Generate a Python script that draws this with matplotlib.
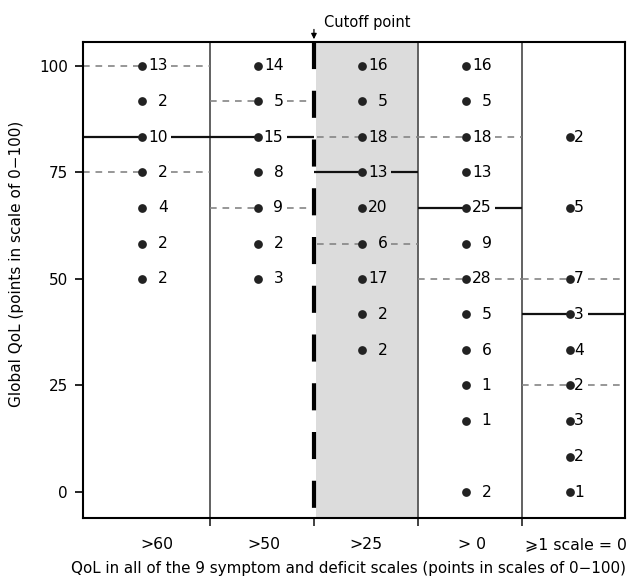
import matplotlib
matplotlib.use("Agg")
import matplotlib.pyplot as plt
import numpy as np

plt.rcParams['font.family'] = ['DejaVu Sans']

# ---- data ----
categories = [">60", ">50", ">25", "> 0", "\u2a7e1 scale = 0"]
col1_y = [100, 91.7, 83.3, 75, 66.7, 58.3, 50]
col1_n = [13, 2, 10, 2, 4, 2, 2]
col2_y = [100, 91.7, 83.3, 75, 66.7, 58.3, 50]
col2_n = [14, 5, 15, 8, 9, 2, 3]
col3_y = [100, 91.7, 83.3, 75, 66.7, 58.3, 50, 41.7, 33.3]
col3_n = [16, 5, 18, 13, 20, 6, 17, 2, 2]
col4_y = [100, 91.7, 83.3, 75, 66.7, 58.3, 50, 41.7, 33.3, 25, 16.7, 0]
col4_n = [16, 5, 18, 13, 25, 9, 28, 5, 6, 1, 1, 2]
col5_y = [83.3, 66.7, 50, 41.7, 33.3, 25, 16.7, 8.3, 0]
col5_n = [2, 5, 7, 3, 4, 2, 3, 2, 1]
medians = [83.3, 83.3, 75, 66.7, 41.7]
quartiles = [(100, 75), (91.7, 66.7), (83.3, 58.3), (83.3, 50), (50, 25)]
yticks = [0, 25, 50, 75, 100]

cols_y = [col1_y, col2_y, col3_y, col4_y, col5_y]
cols_n = [col1_n, col2_n, col3_n, col4_n, col5_n]

# ---- layout ----
bounds = [0, 1.22, 2.22, 3.22, 4.22, 5.21]
dot_off = [0.567, 0.46, 0.46, 0.46, 0.46]
label_shift = [0.10, 0.015, 0.0, 0.02, 0.025]
label_centers = [(bounds[i] + bounds[i + 1]) / 2 + label_shift[i] for i in range(5)]

W, H = 632, 581
fig = plt.figure(figsize=(W / 100, H / 100), dpi=100)
ax = fig.add_axes([83 / W, 1 - 518 / H, 542 / W, 476 / H])
ax.set_xlim(bounds[0], bounds[-1])
ax.set_ylim(-6.1, 105.6)

# grey column
ax.axvspan(bounds[2] + 0.02, bounds[3], color='#dcdcdc', zorder=0, lw=0)

# dividers
for b in [bounds[1], bounds[3], bounds[4]]:
    ax.axvline(b, color='#555555', lw=1.3, zorder=1)
ax.plot([bounds[2], bounds[2]], [105.6, -8], color='black', lw=3,
        linestyle=(0, (6.5, 5.2)), clip_on=False, zorder=3)

qcol = '#858585'
for i in range(5):
    xl, xr = bounds[i], bounds[i + 1]
    xd = bounds[i] + dot_off[i]
    gap = 0.28 if i < 4 else 0.17
    # median
    ax.plot([xl, xd], [medians[i]] * 2, color='#111111', lw=1.6, zorder=2,
            solid_capstyle='butt')
    ax.plot([xd + gap, xr], [medians[i]] * 2, color='#111111', lw=1.6, zorder=2,
            solid_capstyle='butt')
    for q in quartiles[i]:
        ax.plot([xl + (0.03 if i == 2 else 0), xd], [q] * 2, color=qcol, lw=1.2,
                linestyle=(0, (4, 3.5)), zorder=2)
        ax.plot([xd + gap, xr], [q] * 2, color=qcol, lw=1.2,
                linestyle=(0, (4, 3.5)), zorder=2)
    xs = [xd] * len(cols_y[i])
    ax.plot(xs, cols_y[i], 'o', color='#222222', ms=6.3, zorder=4, mec='none')
    for y, n in zip(cols_y[i], cols_n[i]):
        if i < 4:
            ax.annotate(str(n), (xd, y), xytext=(18.5, 0), textcoords='offset points',
                        ha='right', va='center', fontsize=11.2, zorder=5)
        else:
            ax.annotate(str(n), (xd, y), xytext=(3.0, 0), textcoords='offset points',
                        ha='left', va='center', fontsize=11.2, zorder=5)

# spines & ticks
for s in ax.spines.values():
    s.set_linewidth(1.5)
    s.set_color('black')
ax.set_yticks(yticks)
ax.set_yticklabels([str(t) for t in yticks], fontsize=11)
ax.tick_params(axis='y', direction='out', length=6, width=1.2, pad=5)
ax.set_xticks(label_centers)
ax.set_xticklabels(categories, fontsize=11.3)
ax.tick_params(axis='x', which='major', length=0, pad=14)
ax.set_xticks([bounds[1], bounds[2], bounds[3], bounds[4]], minor=True)
ax.tick_params(axis='x', which='minor', direction='out', length=6, width=1.3, color='#333333')

fig.text(17 / W, 1 - 264 / H, "Global QoL (points in scale of 0\u2212100)", fontsize=11,
         rotation=90, ha='center', va='center')
fig.text(348 / W, 1 - 569 / H,
         "QoL in all of the 9 symptom and deficit scales (points in scales of 0\u2212100)",
         fontsize=10.9, ha='center', va='center')

# cutoff annotation
ax.annotate("", xy=(bounds[2], 105.6), xytext=(bounds[2], 109.2),
            arrowprops=dict(arrowstyle='-|>', color='black', lw=0.9, mutation_scale=8),
            annotation_clip=False)
ax.text(bounds[2] + 0.1, 110.2, "Cutoff point", fontsize=10.5, ha='left', va='center',
        clip_on=False)

fig.savefig("out.png", dpi=100)
